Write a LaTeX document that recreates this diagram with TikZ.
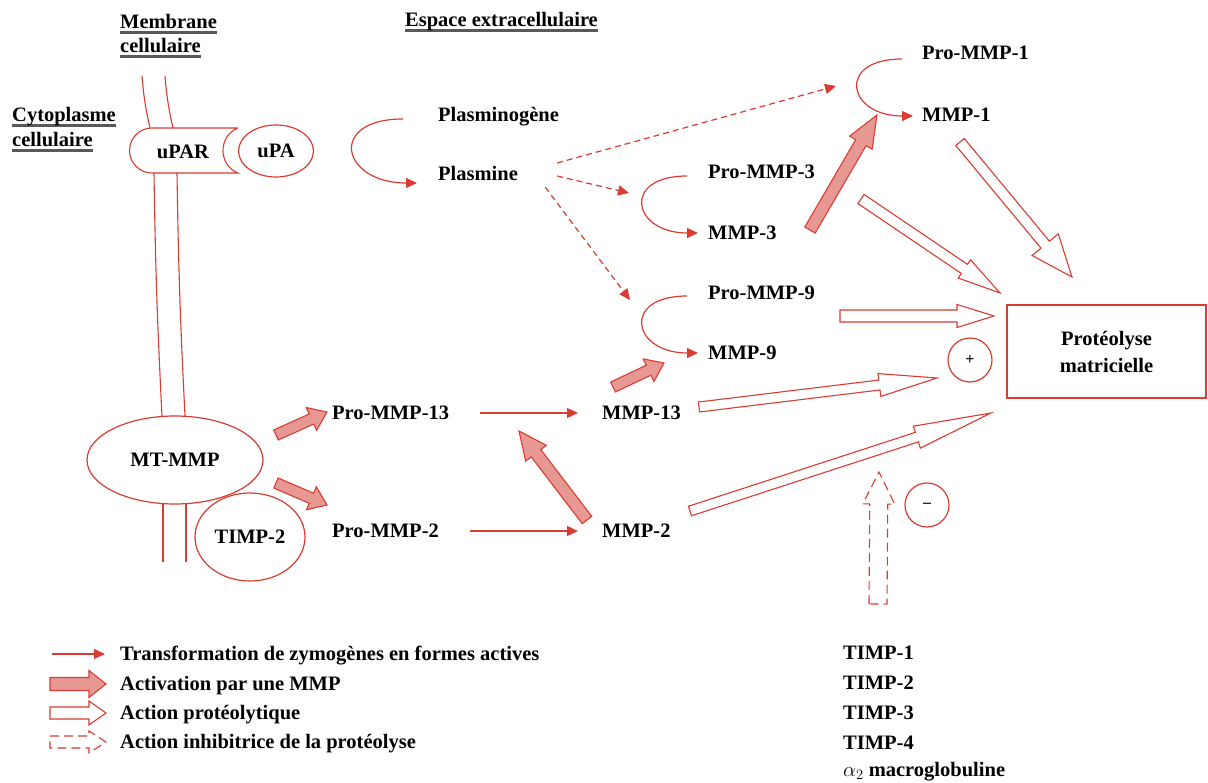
\documentclass[tikz,border=0pt]{standalone}
\usepackage{fontspec}
\setmainfont{Liberation Serif}
\usetikzlibrary{calc,arrows.meta,shapes.geometric}

\definecolor{mred}{RGB}{216,60,50}
\definecolor{mpink}{RGB}{232,152,146}

% thick grey underline for the headings
\newcommand{\ulx}[1]{\setbox0\hbox{#1}\rlap{\color{black!65}\rule[-5pt]{\wd0}{2.4pt}}\box0}

% block arrow: [style]{tail}{tip}{half shaft}{half head}{head length}
\newcommand{\blockarrow}[6][act]{%
  \coordinate (bah) at ($(#3)!#6pt!(#2)$);
  \draw[#1] ($(#2)!#4pt!90:(#3)$) -- ($(bah)!#4pt!90:(#3)$) -- ($(bah)!#5pt!90:(#3)$) -- (#3)
    -- ($(bah)!#5pt!-90:(#3)$) -- ($(bah)!#4pt!-90:(#3)$) -- ($(#2)!#4pt!-90:(#3)$) -- cycle;
}

\tikzset{
  lbl/.style={font=\bfseries\fontsize{20.5}{24}\selectfont, inner sep=0pt, anchor=west,
    text height=13.6pt, text depth=0pt},
  conv/.style={draw=mred, line width=1.2pt, -{Triangle[length=11pt,width=10pt]}},
  plasm/.style={conv, dash pattern=on 6pt off 4pt},
  act/.style={draw=mred, fill=mpink, line width=1.1pt},
  prot/.style={draw=mred, fill=white, line width=1.1pt},
  inhib/.style={prot, dash pattern=on 9pt off 5pt},
  memb/.style={draw=mred, line width=1.1pt},
  blob/.style={lbl, anchor=center, ellipse, draw=mred, line width=1.2pt},
  sign/.style={circle, draw=mred, line width=1.2pt, minimum size=44pt, inner sep=0pt,
    font=\bfseries\fontsize{16}{16}\selectfont}
}

\begin{document}
\begin{tikzpicture}[x=1pt, y=-1pt]
    \useasboundingbox (0,0) rectangle (1208,783);

    % headings
    \node[lbl] (memb1) at (120,22) {\ulx{Membrane}};
    \node[lbl] (memb2) at (120,46) {\ulx{cellulaire}};
    \node[lbl] (esp) at (405,20) {\ulx{Espace extracellulaire}};
    \node[lbl] (cyto1) at (12,115) {\ulx{Cytoplasme}};
    \node[lbl] (cyto2) at (12,140) {\ulx{cellulaire}};

    % membrane and receptors
    \draw[memb] (142,76) to[bend right=4] (150,128);
    \draw[memb] (165,76) to[bend right=4] (173,128);
    \draw[memb] (154,173) to[bend right=1] (162,416);
    \draw[memb] (177,173) to[bend right=1] (185,416);
    \draw[memb] (163,503) -- (163,562);
    \draw[memb] (186,503) -- (186,562);
    \draw[memb] (238,128) -- (152,128) arc[start angle=90, end angle=270, radius=22.5pt]
        -- (238,173) .. controls (218,165) and (218,136) .. (238,128);
    \node[lbl, anchor=center] (upar) at (183,152) {uPAR};
    \node[blob, minimum width=75pt, minimum height=52pt] (upa) at (276,151) {uPA};
    \node[blob, minimum width=176pt, minimum height=88pt] (mtmmp) at (175,460) {MT-MMP};
    \node[blob, minimum width=110pt, minimum height=88pt] (timp) at (250,537) {TIMP-2};

    % zymogens and active forms
    \node[lbl] (plg) at (438,115) {Plasminogène};
    \node[lbl] (pls) at (438,174) {Plasmine};
    \node[lbl] (pro1) at (922,53) {Pro-MMP-1};
    \node[lbl] (mmp1) at (922,115) {MMP-1};
    \node[lbl] (pro3) at (708,172) {Pro-MMP-3};
    \node[lbl] (mmp3) at (708,233) {MMP-3};
    \node[lbl] (pro9) at (708,293) {Pro-MMP-9};
    \node[lbl] (mmp9) at (708,353) {MMP-9};
    \node[lbl] (pro13) at (332,413) {Pro-MMP-13};
    \node[lbl] (mmp13) at (602,413) {MMP-13};
    \node[lbl] (pro2) at (332,531) {Pro-MMP-2};
    \node[lbl] (mmp2) at (602,531) {MMP-2};

    \node[draw=mred, line width=1.2pt, minimum width=199pt, minimum height=93pt, align=center,
        font=\bfseries\fontsize{20.5}{27}\selectfont] (prot) at (1106.5,351.5) {Protéolyse\\matricielle};
    \node[sign] (plus) at (970,360) {+};
    \node[sign] (minus) at (927,505) {\textendash};

    \node[lbl] (timp1) at (843,653) {TIMP-1};
    \node[lbl] (timp2) at (843,683) {TIMP-2};
    \node[lbl] (timp3) at (843,713) {TIMP-3};
    \node[lbl] (timp4) at (843,743) {TIMP-4};
    \node[lbl] (a2m) at (843,770) {$\alpha_2$ macroglobuline};

    % transformations
    \draw[conv] ([xshift=-35pt,yshift=-4pt]plg.west) .. controls +(-76,0) and +(-76,0) .. ([xshift=-21pt,yshift=-9pt]pls.west);
    \draw[conv] ([xshift=-20pt,yshift=-6pt]pro1.west) .. controls +(-66,0) and +(-66,0) .. ([xshift=-9pt,yshift=-1pt]mmp1.west);
    \draw[conv] ([xshift=-21pt,yshift=-4pt]pro3.west) .. controls +(-66,0) and +(-66,0) .. ([xshift=-10pt]mmp3.west);
    \draw[conv] ([xshift=-21pt,yshift=-3pt]pro9.west) .. controls +(-66,0) and +(-66,0) .. ([xshift=-10pt]mmp9.west);
    \draw[conv, shorten <=31pt, shorten >=24pt] (pro13.east) -- (mmp13.west);
    \draw[conv, shorten <=31pt, shorten >=24pt] (pro2.east) -- (mmp2.west);

    \draw[plasm] ([xshift=39pt,yshift=11pt]pls.east) -- ([xshift=-86pt,yshift=-33pt]pro1.west);
    \draw[plasm] ([xshift=39pt,yshift=-2pt]pls.east) -- ([xshift=-79pt,yshift=-21pt]pro3.west);
    \draw[plasm] ([xshift=27pt,yshift=-13pt]pls.east) -- ([xshift=-78pt,yshift=-7pt]pro9.west);

    % activation par une MMP
    \coordinate (a1t) at (276,435); \coordinate (a1h) at (327,412);
    \coordinate (a2t) at (276,483); \coordinate (a2h) at (327,505);
    \coordinate (a3t) at (587,520); \coordinate (a3h) at (519,431);
    \coordinate (a4t) at (613,387); \coordinate (a4h) at (664,363);
    \coordinate (a5t) at (810,230); \coordinate (a5h) at (877,115);
    \blockarrow{a1t}{a1h}{5.5}{12.5}{17}
    \blockarrow{a2t}{a2h}{5.5}{12.5}{17}
    \blockarrow{a3t}{a3h}{6}{13}{28}
    \blockarrow{a4t}{a4h}{5.5}{12.5}{17}
    \blockarrow{a5t}{a5h}{6}{13}{32}

    % action proteolytique
    \coordinate (h1t) at (960,142); \coordinate (h1h) at (1072,277);
    \coordinate (h2t) at (861,199); \coordinate (h2h) at (1000,293);
    \coordinate (h3t) at (840,316); \coordinate (h3h) at (994,316);
    \coordinate (h4t) at (699,407); \coordinate (h4h) at (937,378);
    \coordinate (h5t) at (690,511); \coordinate (h5h) at (991,413);
    \blockarrow[prot]{h1t}{h1h}{5.5}{17}{42}
    \blockarrow[prot]{h2t}{h2h}{5.5}{11}{43}
    \blockarrow[prot]{h3t}{h3h}{6}{11.5}{37}
    \blockarrow[prot]{h4t}{h4h}{5}{11.5}{58}
    \blockarrow[prot]{h5t}{h5h}{5}{11.5}{78}

    % inhibition
    \coordinate (i1t) at (878,604); \coordinate (i1h) at (879,472);
    \blockarrow[inhib]{i1t}{i1h}{9}{16}{32}

    % legend
    \node[lbl] (leg1) at (120,654) {Transformation de zymogènes en formes actives};
    \node[lbl] (leg2) at (120,684) {Activation par une MMP};
    \node[lbl] (leg3) at (120,713) {Action protéolytique};
    \node[lbl] (leg4) at (120,742) {Action inhibitrice de la protéolyse};
    \draw[conv] ([xshift=-68pt]leg1.west) -- ([xshift=-15pt]leg1.west);
    \coordinate (l2t) at ([xshift=-70pt]leg2.west); \coordinate (l2h) at ([xshift=-14pt]leg2.west);
    \coordinate (l3t) at ([xshift=-70pt]leg3.west); \coordinate (l3h) at ([xshift=-14pt]leg3.west);
    \coordinate (l4t) at ([xshift=-70pt]leg4.west); \coordinate (l4h) at ([xshift=-14pt]leg4.west);
    \blockarrow{l2t}{l2h}{6.5}{13.5}{17}
    \blockarrow[prot]{l3t}{l3h}{6}{12}{17}
    \blockarrow[inhib]{l4t}{l4h}{6}{11}{17}
\end{tikzpicture}
\end{document}
